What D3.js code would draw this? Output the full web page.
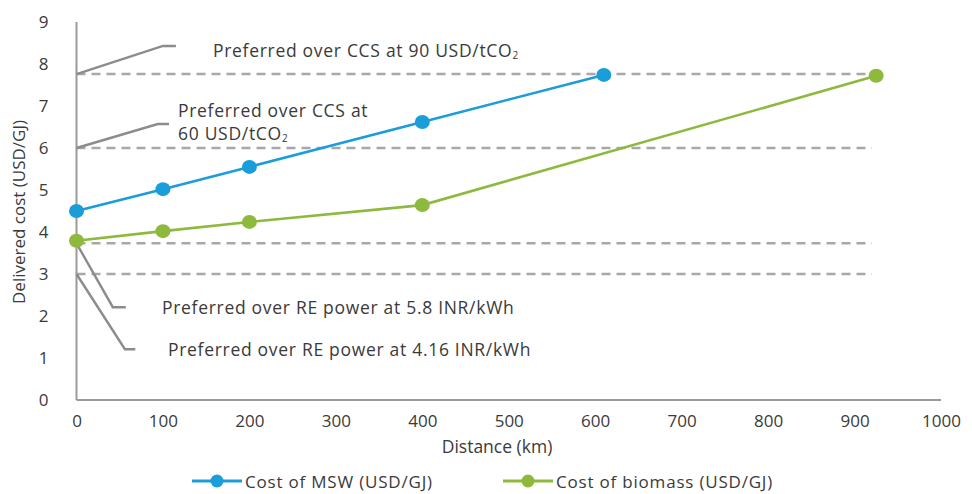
<!DOCTYPE html>
<html>
<head>
<meta charset="utf-8">
<script src="https://cdn.jsdelivr.net/npm/d3@7"></script>
<style>
  body { margin: 0; background: #fff; }
  svg { display: block; }
  text { font-family: "Open Sans", sans-serif; fill: #3a3a3a; }
</style>
</head>
<body>
<svg id="chart" width="972" height="494"></svg>
<script>
// ---- Data ----
const mswDistance = [0, 100, 200, 400, 610];
const mswCost = [4.5, 5.02, 5.55, 6.62, 7.74];
const biomassDistance = [0, 100, 200, 400, 925];
const biomassCost = [3.79, 4.02, 4.24, 4.64, 7.72];
const xTicks = [0, 100, 200, 300, 400, 500, 600, 700, 800, 900, 1000];
const yTicks = [0, 1, 2, 3, 4, 5, 6, 7, 8, 9];
const refLevels = [7.76, 6.0, 3.73, 3.0];
const refEnd = 920;
const seriesNames = ["Cost of MSW (USD/GJ)", "Cost of biomass (USD/GJ)"];
const annotationTexts = [
  ["Preferred over CCS at 90 USD/tCO", "2"],
  ["Preferred over CCS at", ""],
  ["60 USD/tCO", "2"],
  ["Preferred over RE power at 5.8 INR/kWh", ""],
  ["Preferred over RE power at 4.16 INR/kWh", ""]
];
// leader lines: [start, bend, end] in data units (km, USD/GJ)
const leaders = [
  [[0, 7.76], [100, 8.43], [115, 8.43]],
  [[0, 6.0], [94, 6.57], [107, 6.57]],
  [[0, 3.73], [42, 2.21], [57, 2.21]],
  [[0, 3.0], [56, 1.21], [68, 1.21]]
];

const blue = "#1b9dd9";
const green = "#8dba3d";

const svg = d3.select("#chart");
const x = d3.scaleLinear().domain([0, 1000]).range([76.5, 941]);
const y = d3.scaleLinear().domain([0, 9]).range([400, 22]);

// axes lines
svg.append("line").attr("x1", x(0)).attr("x2", x(0)).attr("y1", y(9)).attr("y2", y(0))
  .attr("stroke", "#9a9a9a").attr("stroke-width", 2);
svg.append("line").attr("x1", x(0)).attr("x2", x(1000)).attr("y1", y(0)).attr("y2", y(0))
  .attr("stroke", "#9a9a9a").attr("stroke-width", 2);

// tick labels via axes (no tick lines)
const xAxis = svg.append("g").attr("transform", `translate(0,${y(0)})`)
  .call(d3.axisBottom(x).tickValues(xTicks).tickSize(0).tickPadding(15).tickFormat(d3.format("d")));
xAxis.select(".domain").remove();
xAxis.selectAll("text").attr("font-size", 17).attr("font-family", "'Open Sans', sans-serif").attr("fill", "#3a3a3a");

const yAxis = svg.append("g").attr("transform", `translate(${x(0)},0)`)
  .call(d3.axisLeft(y).tickValues(yTicks).tickSize(0).tickPadding(28).tickFormat(d3.format("d")));
yAxis.select(".domain").remove();
yAxis.selectAll("text").attr("font-size", 17).attr("font-family", "'Open Sans', sans-serif").attr("fill", "#3a3a3a");

// axis titles
svg.append("text").attr("x", 497).attr("y", 446).attr("dominant-baseline", "central").attr("text-anchor", "middle")
  .attr("font-size", 17.5).text("Distance (km)");
svg.append("text").attr("transform", "translate(18,212) rotate(-90)").attr("dominant-baseline", "central")
  .attr("text-anchor", "middle").attr("font-size", 17).text("Delivered cost (USD/GJ)");

// reference dashed lines
svg.selectAll(".ref").data(refLevels).enter().append("line")
  .attr("x1", x(0)).attr("x2", x(refEnd))
  .attr("y1", d => y(d)).attr("y2", d => y(d))
  .attr("stroke", "#a8a8a8").attr("stroke-width", 2.5).attr("stroke-dasharray", "9,6");

// leaders
const lineGen = d3.line().x(d => x(d[0])).y(d => y(d[1]));
svg.selectAll(".leader").data(leaders).enter().append("path")
  .attr("d", lineGen).attr("fill", "none").attr("stroke", "#8c8c8c").attr("stroke-width", 2.4);

// annotation texts
const annPos = [[213, 50], [178, 110], [178, 133], [162, 307], [168, 349]];
annotationTexts.forEach((t, i) => {
  const tx = svg.append("text").attr("x", annPos[i][0]).attr("y", annPos[i][1])
    .attr("dominant-baseline", "central").attr("font-size", 17.5).attr("letter-spacing", 0.7);
  tx.append("tspan").text(t[0]);
  if (t[1]) tx.append("tspan").attr("font-size", 10).attr("dy", 5).text(t[1]);
});

// series
const series = [
  { name: seriesNames[0], color: blue, pts: mswDistance.map((d, i) => [d, mswCost[i]]) },
  { name: seriesNames[1], color: green, pts: biomassDistance.map((d, i) => [d, biomassCost[i]]) }
];
series.forEach(s => {
  svg.append("path").attr("d", lineGen(s.pts)).attr("fill", "none")
    .attr("stroke", s.color).attr("stroke-width", 2.6);
  svg.selectAll(null).data(s.pts).enter().append("ellipse")
    .attr("cx", d => x(d[0])).attr("cy", d => y(d[1])).attr("rx", 7.5).attr("ry", 7)
    .attr("fill", s.color);
});

// legend
const legendX = [192, 503];
series.forEach((s, i) => {
  const g = svg.append("g").attr("transform", `translate(${legendX[i]},481)`);
  g.append("line").attr("x1", 0).attr("x2", 50).attr("stroke", s.color).attr("stroke-width", 3);
  g.append("circle").attr("cx", 25).attr("r", 6.5).attr("fill", s.color);
  g.append("text").attr("x", 53).attr("dominant-baseline", "central").attr("font-size", 17)
    .attr("letter-spacing", 0.8).text(s.name);
});
</script>
</body>
</html>
